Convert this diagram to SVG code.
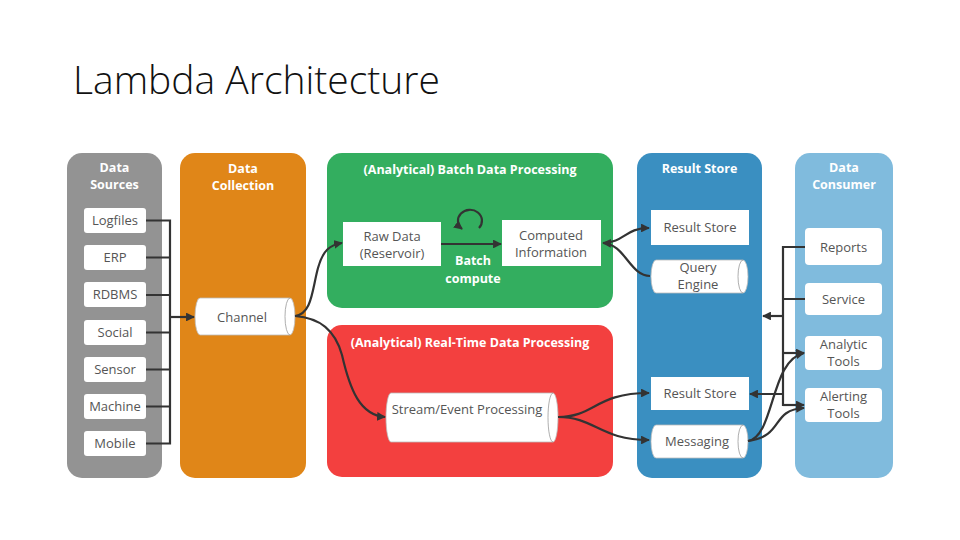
<svg xmlns="http://www.w3.org/2000/svg" width="960" height="540" viewBox="0 0 960 540">
<defs>
<marker id="ah" viewBox="0 0 10 10" refX="9" refY="5" markerWidth="4" markerHeight="4" orient="auto-start-reverse" markerUnits="strokeWidth">
<path d="M0,0 L10,5 L0,10 Z" fill="#333"/>
</marker>
</defs>
<style>
.title{font-family:"Open Sans","Liberation Sans",sans-serif;font-weight:300;font-size:39px;fill:#111}
.hdr{font-family:"Open Sans","Liberation Sans",sans-serif;font-weight:700;font-size:12.5px;fill:#fff;text-anchor:middle}
.lbl{font-family:"Open Sans","Liberation Sans",sans-serif;font-size:13px;fill:#555;text-anchor:middle}
.box{fill:#fff}
.cyl{fill:#fff;stroke:#bbb;stroke-width:0.8}
.cap{fill:none;stroke:#999;stroke-width:0.8}
.ln{fill:none;stroke:#333;stroke-width:2.2}
.arr{fill:none;stroke:#333;stroke-width:2.2;marker-end:url(#ah)}
</style>
<rect width="960" height="540" fill="#fff"/>
<text class="title" x="73" y="94">Lambda Architecture</text>

<g id="panel-sources">
<rect x="67" y="153" width="95" height="325" rx="15" fill="#939393"/>
<text class="hdr" x="114.5" y="172">Data</text>
<text class="hdr" x="114.5" y="189">Sources</text>
</g>
<g id="panel-collection">
<rect x="180" y="153" width="126" height="325" rx="15" fill="#e08618"/>
<text class="hdr" x="243" y="173">Data</text>
<text class="hdr" x="243" y="190">Collection</text>
</g>
<g id="panel-batch">
<rect x="327" y="153" width="286" height="155" rx="15" fill="#33ae5f"/>
<text class="hdr" x="470" y="174">(Analytical) Batch Data Processing</text>
</g>
<g id="panel-realtime">
<rect x="327" y="325" width="286" height="152" rx="15" fill="#f3403f"/>
<text class="hdr" x="470" y="347">(Analytical) Real-Time Data Processing</text>
</g>
<g id="panel-result">
<rect x="637" y="153" width="125" height="325" rx="15" fill="#3a8fc1"/>
<text class="hdr" x="699.5" y="173">Result Store</text>
</g>
<g id="panel-consumer">
<rect x="795" y="153" width="98" height="325" rx="15" fill="#80bbdd"/>
<text class="hdr" x="844" y="172">Data</text>
<text class="hdr" x="844" y="189">Consumer</text>
</g>

<g id="logfiles"><rect class="box" x="84" y="208" width="62" height="25" rx="3"/><text class="lbl" x="115" y="225">Logfiles</text></g>
<g id="erp"><rect class="box" x="84" y="245" width="62" height="25" rx="3"/><text class="lbl" x="115" y="262">ERP</text></g>
<g id="rdbms"><rect class="box" x="84" y="282" width="62" height="25" rx="3"/><text class="lbl" x="115" y="299">RDBMS</text></g>
<g id="social"><rect class="box" x="84" y="320" width="62" height="25" rx="3"/><text class="lbl" x="115" y="337">Social</text></g>
<g id="sensor"><rect class="box" x="84" y="357" width="62" height="25" rx="3"/><text class="lbl" x="115" y="374">Sensor</text></g>
<g id="machine"><rect class="box" x="84" y="394" width="62" height="25" rx="3"/><text class="lbl" x="115" y="411">Machine</text></g>
<g id="mobile"><rect class="box" x="84" y="431" width="62" height="25" rx="3"/><text class="lbl" x="115" y="448">Mobile</text></g>

<g id="channel">
<path class="cyl" d="M200,298 H290 A5,18.5 0 0 1 290,335 H200 A5,18.5 0 0 1 200,298 Z"/>
<path class="cap" d="M290,298 A5,18.5 0 0 0 290,335"/>
<text class="lbl" x="242" y="322">Channel</text>
</g>

<g id="raw-data"><rect class="box" x="343" y="222" width="98" height="44"/><text class="lbl" x="392" y="241">Raw Data</text><text class="lbl" x="392" y="258">(Reservoir)</text></g>
<g id="computed"><rect class="box" x="502" y="220" width="99" height="46"/><text class="lbl" x="551" y="240">Computed</text><text class="lbl" x="551" y="257">Information</text></g>
<g id="batch-label"><text class="hdr" x="473" y="265">Batch</text><text class="hdr" x="473" y="283">compute</text></g>

<g id="stream">
<path class="cyl" d="M391,393 H553 A5,24.5 0 0 1 553,442 H391 A5,24.5 0 0 1 391,393 Z"/>
<path class="cap" d="M553,393 A5,24.5 0 0 0 553,442"/>
<text class="lbl" x="467" y="414">Stream/Event Processing</text>
</g>

<g id="result-store-1"><rect class="box" x="651" y="210" width="98" height="35"/><text class="lbl" x="700" y="232">Result Store</text></g>
<g id="query-engine">
<path class="cyl" d="M656,260 H743 A5,16.5 0 0 1 743,293 H656 A5,16.5 0 0 1 656,260 Z"/>
<path class="cap" d="M743,260 A5,16.5 0 0 0 743,293"/>
<text class="lbl" x="698" y="272">Query</text><text class="lbl" x="698" y="289">Engine</text>
</g>
<g id="result-store-2"><rect class="box" x="651" y="377" width="98" height="33"/><text class="lbl" x="700" y="398">Result Store</text></g>
<g id="messaging">
<path class="cyl" d="M656,425 H743 A5,16.5 0 0 1 743,458 H656 A5,16.5 0 0 1 656,425 Z"/>
<path class="cap" d="M743,425 A5,16.5 0 0 0 743,458"/>
<text class="lbl" x="697" y="446">Messaging</text>
</g>

<g id="reports"><rect class="box" x="805" y="228" width="77" height="37" rx="4"/><text class="lbl" x="843.5" y="252">Reports</text></g>
<g id="service"><rect class="box" x="805" y="283" width="77" height="32" rx="4"/><text class="lbl" x="843.5" y="304">Service</text></g>
<g id="analytic"><rect class="box" x="805" y="336" width="77" height="34" rx="4"/><text class="lbl" x="843.5" y="349">Analytic</text><text class="lbl" x="843.5" y="366">Tools</text></g>
<g id="alerting"><rect class="box" x="805" y="388" width="77" height="34" rx="4"/><text class="lbl" x="843.5" y="401">Alerting</text><text class="lbl" x="843.5" y="418">Tools</text></g>

<g id="connectors">
<path class="ln" d="M146,220.5 H170 M146,257.5 H170 M146,295 H170 M146,332.5 H170 M146,369.5 H170 M146,406.5 H170 M146,443.5 H170 M170,219.5 V444.5"/>
<path class="arr" d="M170,317 H194" stroke-width="3"/>
<path class="arr" d="M295,316 C312,314 312,290 318,268 C323,250 330,245 342,243"/>
<path class="arr" d="M295,316 C320,318 335,330 342,355 C350,390 360,415 385,417"/>
<path class="arr" d="M441,244 H501"/>
<path class="arr" d="M479,228 A12,11 0 1 0 462,229"/>
<path class="arr" d="M650,276 C630,276 625,244 603,243"/>
<path class="arr" d="M603,243 C625,242 625,228 649,228"/>
<path class="arr" d="M558,417 C595,417 595,393 649,393"/>
<path class="arr" d="M558,417 C595,417 600,440 649,440"/>
<path class="ln" d="M805,247 H783 M805,299 H783 M783,246 V406"/>
<path class="arr" d="M783,353 H804"/>
<path class="arr" d="M783,405 H804"/>
<path class="arr" d="M783,316 H763" stroke-width="3"/>
<path class="arr" d="M783,394 H750"/>
<path class="arr" d="M748,441 C775,436 770,360 804,353"/>
<path class="arr" d="M748,441 C785,436 770,410 804,408"/>
</g>
</svg>
